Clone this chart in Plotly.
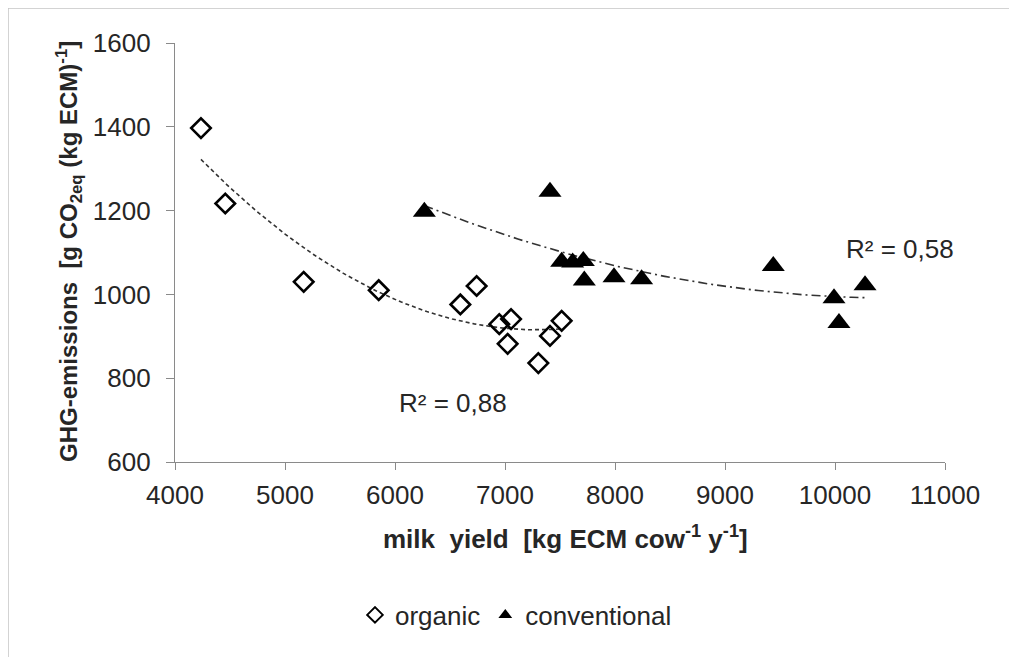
import numpy as np
import plotly.graph_objects as go

# --- data ---
organic_x = [4236, 4457, 5170, 5852, 6594, 6742, 6948, 7055, 7024, 7303, 7409, 7515]
organic_y = [1397, 1217, 1030, 1010, 976, 1020, 929, 941, 882, 836, 901, 937]
conv_x = [6267, 7409, 7515, 7615, 7712, 7721, 7991, 8242, 9439, 9991, 10036, 10273]
conv_y = [1197, 1245, 1078, 1076, 1080, 1033, 1041, 1036, 1068, 991, 932, 1022]
r2_organic = "R² = 0,88"
r2_conv = "R² = 0,58"
x_ticks = [4000, 5000, 6000, 7000, 8000, 9000, 10000, 11000]
x_labels = ["4000", "5000", "6000", "7000", "8000", "9000", "10000", "11000"]
y_ticks = [600, 800, 1000, 1200, 1400, 1600]

OFF = 8  # page body margin
W, H = 1017 - OFF, 657 - OFF
L, R, T, B = 175 - OFF, 945 - OFF, 43 - OFF, 462 - OFF

def trend(xs, ys):
    c = np.polyfit(xs, ys, 2)
    xx = np.linspace(min(xs), max(xs), 100)
    return xx, np.polyval(c, xx)

fig = go.Figure()
ox, oy = trend(organic_x, organic_y)
cx, cy = trend(conv_x, conv_y)
fig.add_trace(go.Scatter(x=ox, y=oy, mode="lines", showlegend=False,
                         line=dict(color="#333333", width=1.6, dash="4px,3px")))
fig.add_trace(go.Scatter(x=cx, y=cy, mode="lines", showlegend=False,
                         line=dict(color="#333333", width=1.6, dash="9px,4px,2px,4px")))
fig.add_trace(go.Scatter(x=organic_x, y=organic_y, mode="markers", name="organic",
                         marker=dict(symbol="diamond-open", size=15, color="black",
                                     line=dict(width=2.6, color="black"))))
fig.add_trace(go.Scatter(x=conv_x, y=conv_y, mode="markers", name="conventional",
                         marker=dict(symbol="triangle-up", size=20, color="black",
                                     line=dict(width=0))))

def px2paper_x(px):
    return (px - OFF - L) / (R - L)

def px2paper_y(py):
    return (B - (py - OFF)) / (B - T)

axis_common = dict(showgrid=False, zeroline=False, showline=True, linecolor="#8a8a8a",
                   linewidth=1.3, ticks="outside", tickcolor="#8a8a8a", tickwidth=1.3,
                   tickfont=dict(family="Liberation Sans, Arial", size=26, color="#262626"))

def ann(text, x, y, size, angle=0):
    return dict(text=text, x=px2paper_x(x), y=px2paper_y(y), xref="paper", yref="paper",
                xanchor="center", yanchor="middle", textangle=angle, showarrow=False,
                font=dict(family="Liberation Sans, Arial", size=size, color="#262626"))

fig.update_layout(
    width=W, height=H,
    margin=dict(l=L, r=W - R, t=T, b=H - B, pad=0),
    paper_bgcolor="white", plot_bgcolor="white",
    font=dict(family="Liberation Sans, Arial", color="#262626"),
    xaxis=dict(range=[4000, 11000], tickvals=x_ticks, ticktext=x_labels, ticklen=7,
               ticklabelstandoff=3, **axis_common),
    yaxis=dict(range=[600, 1600], tickvals=y_ticks, ticklen=8,
               ticklabelstandoff=10, **axis_common),
    legend=dict(orientation="h", x=px2paper_x(516), xanchor="center",
                y=px2paper_y(615), yanchor="middle",
                font=dict(family="Liberation Sans, Arial", size=26, color="#262626"),
                itemsizing="constant", itemwidth=30, tracegroupgap=0),
    annotations=[
        ann(r2_organic, 453, 403, 26),
        ann(r2_conv, 900, 249, 26),
        ann("<b>milk  yield  [kg ECM cow<sup>-1</sup> y<sup>-1</sup>]</b>", 565, 537, 26),
        ann("<b>GHG-emissions  [g CO<sub>2eq</sub> (kg ECM)<sup>-1</sup>]</b>", 69, 252, 24, angle=-90),
    ],
    shapes=[
        dict(type="line", xref="paper", yref="paper", x0=px2paper_x(8), x1=px2paper_x(1017),
             y0=px2paper_y(8), y1=px2paper_y(8), line=dict(color="#c4c4c4", width=1.5)),
        dict(type="line", xref="paper", yref="paper", x0=px2paper_x(8), x1=px2paper_x(8),
             y0=px2paper_y(8), y1=px2paper_y(657), line=dict(color="#c4c4c4", width=1.5)),
    ],
)

fig.write_html("out.html")
